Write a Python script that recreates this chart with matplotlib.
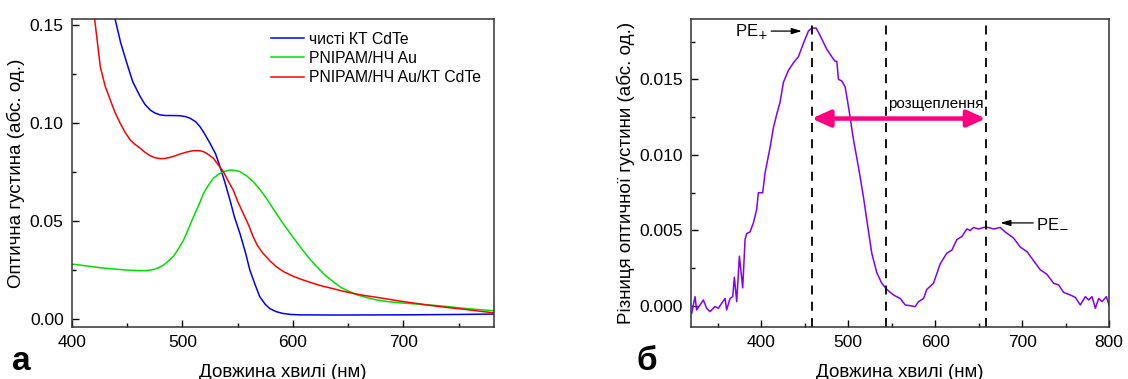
import numpy as np
import matplotlib.pyplot as plt
from matplotlib.ticker import MultipleLocator

plt.rcParams['font.family'] = ['Liberation Sans', 'DejaVu Sans']

# --- absorption spectra (panel a) ---
wl_qd = [430, 439, 444, 449.7, 455, 461.8, 466, 470.8, 475, 479.9, 485, 490, 498, 503,
         507, 512, 516, 520, 525, 530, 534, 538, 543, 547, 552, 557, 561, 566, 570, 575,
         579, 585, 591, 598, 606, 640, 700, 750, 782]
od_qd = [0.175, 0.153, 0.141, 0.1304, 0.121, 0.1134, 0.1095, 0.1066, 0.1051, 0.1041,
         0.1038, 0.1038, 0.1037, 0.1032, 0.1024, 0.1006, 0.098, 0.0945, 0.0896, 0.0842,
         0.0777, 0.0705, 0.0607, 0.0522, 0.0437, 0.034, 0.025, 0.0172, 0.0114, 0.0075,
         0.0054, 0.0038, 0.0029, 0.0024, 0.0022, 0.0021, 0.0022, 0.0024, 0.0026]

wl_au = [400, 425.6, 449.7, 461.8, 468, 473.9, 478, 482.9, 487, 492, 496, 501, 505, 510,
         515, 519, 524, 528, 533, 537, 543, 548, 552, 558, 564, 570, 576, 583, 591, 599,
         606.5, 614, 621.6, 629, 636.7, 644, 651.8, 659, 666.8, 674, 682, 690, 697, 712,
         727, 742, 757, 770, 782]
od_au = [0.0281, 0.0262, 0.025, 0.0247, 0.0248, 0.0253, 0.0261, 0.0276, 0.0295, 0.0321,
         0.0355, 0.0403, 0.0455, 0.0522, 0.0585, 0.0641, 0.0687, 0.0718, 0.074, 0.0752,
         0.076, 0.0758, 0.0752, 0.0731, 0.0701, 0.0662, 0.0616, 0.0555, 0.0488, 0.0426,
         0.0369, 0.0315, 0.0267, 0.0225, 0.019, 0.016, 0.0139, 0.0122, 0.011, 0.01,
         0.0092, 0.0087, 0.0083, 0.0077, 0.0071, 0.0063, 0.0054, 0.0048, 0.0043]

wl_mix = [412, 420.5, 425.6, 430, 434.7, 439, 443.7, 448, 452.8, 457, 461.8, 466, 470.8,
          475, 479.9, 484, 488.9, 493, 498, 504, 510, 515, 519, 523, 528, 532, 537, 541,
          546, 550, 555, 560, 564, 568, 573, 579, 585, 592, 600, 609, 618.6, 627, 636.7,
          645, 654.8, 663, 672.8, 685, 697, 712, 727, 742, 757, 770, 782]
od_mix = [0.18, 0.153, 0.1287, 0.1188, 0.1117, 0.1053, 0.0998, 0.0953, 0.0913, 0.0891,
          0.0871, 0.0851, 0.0833, 0.0823, 0.0818, 0.0819, 0.0825, 0.0832, 0.0842, 0.0852,
          0.0859, 0.0859, 0.0854, 0.0841, 0.082, 0.079, 0.0752, 0.0708, 0.0658, 0.06,
          0.0539, 0.0478, 0.042, 0.0374, 0.0335, 0.0298, 0.0267, 0.0241, 0.0219, 0.02,
          0.0182, 0.0168, 0.0155, 0.0143, 0.0131, 0.0122, 0.0114, 0.0103, 0.0092, 0.008,
          0.0068, 0.0058, 0.0049, 0.004, 0.0032]

# --- difference spectrum (panel b) ---
wl_diff = [319.8, 321.7, 323.6, 325.5, 329.4, 333.2, 337, 340.9, 346.6, 350.5, 354.3,
           358.2, 360, 363.9, 367, 368.9, 371.6, 374.7, 378.5, 381.2, 383.1, 386.9,
           390.8, 394.6, 396.5, 401.5, 404.2, 410, 413.8, 417.7, 421.5, 425.3, 431.1,
           436.9, 442.6, 448.4, 454.1, 458, 463, 467.6, 475.2, 481, 484.8, 486.8, 488.7,
           492.5, 496.4, 500.2, 506, 511.7, 517.5, 521.3, 527, 532.8, 538.6, 544.3, 552,
           559.7, 565.5, 571.2, 577, 580.8, 586.6, 590.4, 598, 605.8, 613.4, 619.2, 625,
           630.7, 636.5, 640.3, 644.1, 649.9, 655.7, 661.4, 667.2, 674.9, 680.6, 690.2,
           697.9, 705.6, 713.2, 720.9, 728.6, 736.3, 742, 747.8, 755.5, 761.3, 767,
           772.8, 776.6, 780.5, 784.3, 788.1, 792, 797, 800]
d_od = [-0.00049, 0.00007, 0.00062, -0.00026, 0.00007, 0.0004, -0.00015, -0.00037,
        -0.00004, -0.00015, 0.00018, 0.0005, -0.00026, 0.0005, 0.00062, 0.0019, 0.00029,
        0.0033, 0.0012, 0.0044, 0.0048, 0.0049, 0.0055, 0.0064, 0.0075, 0.0075, 0.0088,
        0.0105, 0.0118, 0.0127, 0.0135, 0.0148, 0.0156, 0.0161, 0.0165, 0.0174, 0.0182,
        0.0184, 0.0184, 0.0179, 0.017, 0.0165, 0.0162, 0.0162, 0.015, 0.0149, 0.0145,
        0.0132, 0.011, 0.0092, 0.0072, 0.0057, 0.0035, 0.0022, 0.0015, 0.0011, 0.00073,
        0.0005, 0.00007, 0.00002, -0.00004, 0.00029, 0.0005, 0.0011, 0.0015, 0.0028,
        0.0035, 0.0037, 0.0044, 0.0046, 0.0051, 0.005, 0.0052, 0.0051, 0.0052, 0.0052,
        0.0051, 0.0052, 0.0049, 0.0045, 0.0039, 0.0036, 0.003, 0.0024, 0.0021, 0.0015,
        0.0014, 0.0009, 0.00073, 0.00057, 0.00007, 0.00062, 0.0004, 0.00062, -0.00015,
        0.0005, 0.00029, 0.00062, 0.00007]

pe_plus = 458
pe_mid = 543
pe_minus = 658

fig = plt.figure(figsize=(11.28, 3.79), dpi=100)
ax1 = fig.add_axes([72 / 1128, 1 - 327 / 379, 422 / 1128, 308 / 379])
ax2 = fig.add_axes([691 / 1128, 1 - 327 / 379, 418 / 1128, 308 / 379])

ax1.plot(wl_qd, od_qd, color='#0000ff', lw=1.1, label='чисті КТ CdTe')
ax1.plot(wl_au, od_au, color='#00e000', lw=1.1, label='PNIPAM/НЧ Au')
ax1.plot(wl_mix, od_mix, color='#ff0000', lw=1.1, label='PNIPAM/НЧ Au/КТ CdTe')
ax1.set_xlim(400, 782)
ax1.set_ylim(-0.004, 0.153)
ax1.xaxis.set_major_locator(MultipleLocator(100))
ax1.xaxis.set_minor_locator(MultipleLocator(50))
ax1.yaxis.set_major_locator(MultipleLocator(0.05))
ax1.yaxis.set_minor_locator(MultipleLocator(0.025))
ax1.set_xlabel('Довжина хвилі (нм)', fontsize=13.5, labelpad=10)
ax1.set_ylabel('Оптична густина (абс. од.)', fontsize=13.5, labelpad=3)
ax1.legend(loc='upper right', frameon=False, fontsize=11.3, handlelength=2.1,
           handletextpad=0.35, labelspacing=0.28, borderaxespad=0.4)

ax2.plot(wl_diff, d_od, color='#8000ff', lw=1.1)
for xv in (pe_plus, pe_mid, pe_minus):
    ax2.axvline(xv, color='black', ls=(0, (5, 4)), lw=1.3)
ax2.set_xlim(319, 800)
ax2.set_ylim(-0.00139, 0.019)
ax2.xaxis.set_major_locator(MultipleLocator(100))
ax2.xaxis.set_minor_locator(MultipleLocator(50))
ax2.yaxis.set_major_locator(MultipleLocator(0.005))
ax2.yaxis.set_minor_locator(MultipleLocator(0.0025))
ax2.set_xlabel('Довжина хвилі (нм)', fontsize=13.5, labelpad=10)
ax2.set_ylabel('Різниця оптичної густини (абс. од.)', fontsize=13.5, labelpad=3)

ax2.annotate('', xy=(pe_plus, 0.01241), xytext=(pe_minus, 0.01241),
             arrowprops=dict(arrowstyle='<|-|>,head_length=1.1,head_width=0.5',
                             color='#ff0080', lw=3.2, shrinkA=0, shrinkB=0))
ax2.text(pe_mid + 3, 0.0129, 'розщеплення', fontsize=11, ha='left', va='bottom')
ax2.annotate('PE$_{+}$', xy=(446.5, 0.0182), xytext=(408, 0.0182), fontsize=12,
             ha='right', va='center',
             arrowprops=dict(arrowstyle='-|>,head_length=0.5,head_width=0.15',
                             color='black', lw=0.9, shrinkA=0, shrinkB=0))
ax2.annotate('PE$_{-}$', xy=(675, 0.0055), xytext=(716, 0.0055), fontsize=12,
             ha='left', va='center',
             arrowprops=dict(arrowstyle='-|>,head_length=0.5,head_width=0.15',
                             color='black', lw=0.9, shrinkA=0, shrinkB=0))

for ax in (ax1, ax2):
    ax.tick_params(which='both', direction='in', labelsize=12.5, top=False, right=False,
                   pad=6)
    ax.tick_params(which='major', length=5, width=1)
    ax.tick_params(which='minor', length=3, width=1)
    for sp in ax.spines.values():
        sp.set_linewidth(1.1)
        sp.set_color('#333333')

fig.text(12 / 1128, 1 - 370 / 379, 'а', fontsize=24, fontweight='bold', va='baseline')
fig.text(636 / 1128, 1 - 370 / 379, 'б', fontsize=24, fontweight='bold', va='baseline')

fig.savefig('out.png', dpi=100)
